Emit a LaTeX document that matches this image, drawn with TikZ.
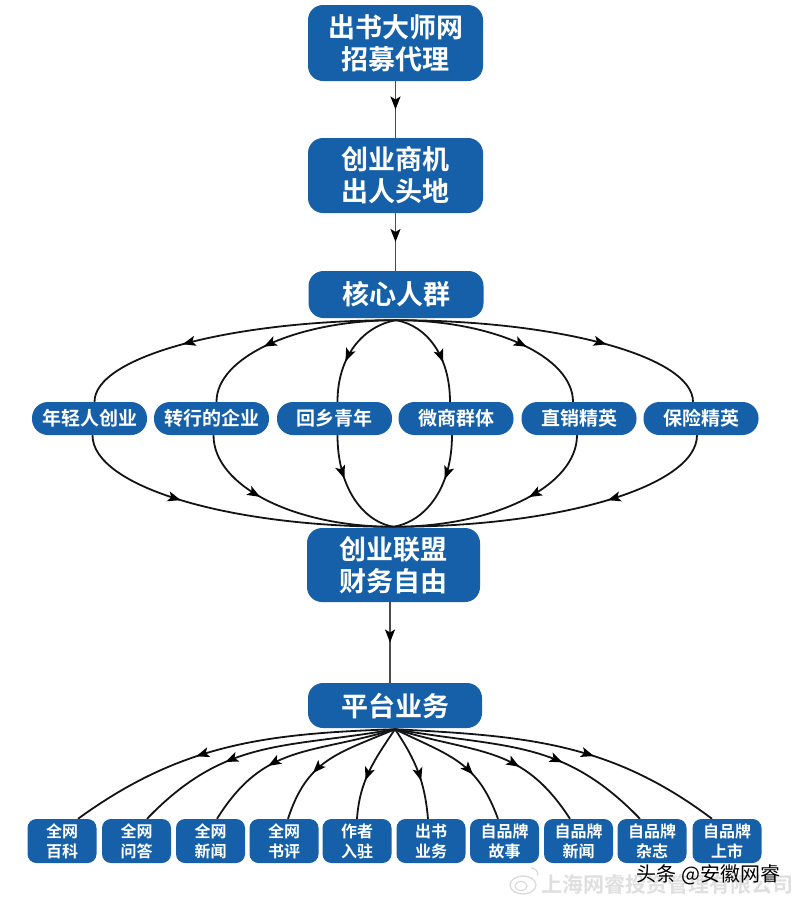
\documentclass[tikz,border=0pt]{standalone}
\usepackage{fontspec}
\newfontfamily\cjk{Noto Sans CJK SC}[BoldFont={Noto Sans CJK SC Bold}]
\usetikzlibrary{arrows.meta,decorations.markings}
\definecolor{boxblue}{RGB}{21,96,168}
\pgfdeclarelayer{bg}
\pgfsetlayers{bg,main}
\begin{document}
\begin{tikzpicture}[x=1pt,y=1pt,
  bigbox/.style={fill=boxblue, rounded corners=15pt, minimum width=175pt, text=white,
    font=\cjk\bfseries\fontsize{27}{32}\selectfont, align=center, inner sep=0pt},
  pill/.style={fill=boxblue, rounded corners=16pt, minimum width=115pt, minimum height=33pt,
    text=white, font=\cjk\bfseries\fontsize{19}{20}\selectfont, inner sep=0pt},
  smallbox/.style={fill=boxblue, rounded corners=9pt, minimum width=69pt, minimum height=44pt,
    text=white, font=\cjk\bfseries\fontsize{16}{20}\selectfont, align=center, inner sep=0pt},
  midarrow/.style={postaction={decorate}, decoration={markings,
    mark=at position #1 with {\arrow[black]{Stealth[length=13pt,width=10pt,inset=3pt]}}}},
  conn/.style={line width=1.8pt, draw=black!92},
  vline/.style={line width=1.4pt, draw=black!70, midarrow=0.5},
]
\useasboundingbox (0,0) rectangle (800,-903);

% main column
\node[bigbox, minimum height=76pt] (n1) at (395.5,-43) {出书大师网\\招募代理};
\node[bigbox, minimum height=75pt] (n2) at (395.5,-175.5) {创业商机\\出人头地};
\node[bigbox, minimum height=47pt] (n3) at (396,-294.5) {核心人群};
\node[bigbox, minimum height=74pt, minimum width=173pt] (n4) at (393.5,-565) {创业联盟\\财务自由};
\node[bigbox, minimum height=45pt, minimum width=174pt] (n5) at (395,-705.5) {平台业务};

% middle row
\node[pill] (m1) at (89.5,-418.5) {年轻人创业};
\node[pill] (m2) at (211.5,-418.5) {转行的企业};
\node[pill] (m3) at (334.5,-418.5) {回乡青年};
\node[pill] (m4) at (456,-418.5) {微商群体};
\node[pill] (m5) at (579,-418.5) {直销精英};
\node[pill] (m6) at (701,-418.5) {保险精英};

% bottom row
\node[smallbox] (b1) at (62,-841) {全网\\百科};
\node[smallbox] (b2) at (136.5,-841) {全网\\问答};
\node[smallbox] (b3) at (210.5,-841) {全网\\新闻};
\node[smallbox] (b4) at (284,-841) {全网\\书评};
\node[smallbox] (b5) at (357,-841) {作者\\入驻};
\node[smallbox] (b6) at (431,-841) {出书\\业务};
\node[smallbox] (b7) at (504.5,-841) {自品牌\\故事};
\node[smallbox] (b8) at (578.5,-841) {自品牌\\新闻};
\node[smallbox] (b9) at (652,-841) {自品牌\\杂志};
\node[smallbox] (b10) at (727,-841) {自品牌\\上市};

\begin{pgfonlayer}{bg}
\fill[white] (0,0) rectangle (800,-903);
% vertical connectors
\draw[vline] (n1.south) -- (n1.south |- n2.north);
\draw[vline] (n2.south) -- (n2.south |- n3.north);
\draw[vline] ([xshift=-3.5pt]n4.south) -- ([xshift=-3.5pt]n4.south |- n5.north);

% upper half of the ellipse fan
\coordinate (top) at ([yshift=-2pt]n3.south);
\draw[conn, midarrow=0.66] (top) to[out=180,in=90,out distance=166pt,in distance=45pt] ([xshift=5pt]m1.north);
\draw[conn, midarrow=0.64] (top) to[out=180,in=90,out distance=99pt,in distance=45pt] ([xshift=5pt]m2.north);
\draw[conn, midarrow=0.62] (top) to[out=190,in=90,out distance=34pt,in distance=45pt] ([xshift=3pt]m3.north);
\draw[conn, midarrow=0.62] (top) to[out=-10,in=90,out distance=32pt,in distance=45pt] ([xshift=-6pt]m4.north);
\draw[conn, midarrow=0.64] (top) to[out=0,in=90,out distance=98pt,in distance=45pt] ([xshift=-6pt]m5.north);
\draw[conn, midarrow=0.66] (top) to[out=0,in=90,out distance=164pt,in distance=45pt] ([xshift=-8pt]m6.north);

% lower half of the ellipse fan
\coordinate (bot) at ([yshift=1pt]n4.north);
\draw[conn, midarrow=0.35] ([xshift=3pt]m1.south) to[out=-90,in=180,out distance=51pt,in distance=166pt] (bot);
\draw[conn, midarrow=0.37] ([xshift=2pt]m2.south) to[out=-90,in=180,out distance=51pt,in distance=99pt] (bot);
\draw[conn, midarrow=0.38] ([xshift=3pt]m3.south) to[out=-90,in=170,out distance=51pt,in distance=32pt] (bot);
\draw[conn, midarrow=0.38] ([xshift=-4pt]m4.south) to[out=-90,in=10,out distance=51pt,in distance=34pt] (bot);
\draw[conn, midarrow=0.37] ([xshift=-2pt]m5.south) to[out=-90,in=0,out distance=51pt,in distance=101pt] (bot);
\draw[conn, midarrow=0.35] ([xshift=-4pt]m6.south) to[out=-90,in=0,out distance=51pt,in distance=167pt] (bot);

% bottom fan
\coordinate (fan) at ([yshift=-1pt]n5.south);
\draw[conn, midarrow=0.6] (fan) to[out=182,in=36] ([xshift=16pt]b1.north);
\draw[conn, midarrow=0.64] (fan) to[out=190,in=46,looseness=1.1] ([xshift=10.5pt]b2.north);
\draw[conn, midarrow=0.64] (fan) to[out=197,in=58,looseness=1.15] ([xshift=6.5pt]b3.north);
\draw[conn, midarrow=0.64] (fan) to[out=203,in=72,looseness=1.15] ([xshift=4pt]b4.north);
\draw[conn, midarrow=0.6] (fan) to[out=236,in=86] (b5.north);
\draw[conn, midarrow=0.6] (fan) to[out=-56,in=95] ([xshift=-3pt]b6.north);
\draw[conn, midarrow=0.64] (fan) to[out=-26,in=110,looseness=1.15] ([xshift=-6.5pt]b7.north);
\draw[conn, midarrow=0.64] (fan) to[out=-17,in=123,looseness=1.15] ([xshift=-8.5pt]b8.north);
\draw[conn, midarrow=0.64] (fan) to[out=-10,in=134,looseness=1.1] ([xshift=-12pt]b9.north);
\draw[conn, midarrow=0.6] (fan) to[out=-3,in=143] ([xshift=-15pt]b10.north);
\end{pgfonlayer}

% watermark
\draw[gray!30, line width=1.3pt] (523,-885) ellipse (13pt and 9pt);
\draw[gray!30, line width=1.1pt] (521,-886) ellipse (6pt and 4.5pt);
\draw[gray!30, line width=1.2pt] (531,-868) arc (90:0:7pt);
\node[text=gray!25, font=\cjk\bfseries\fontsize{21}{21}\selectfont, inner sep=0pt] (wm1) at (667.5,-884) {上海网睿投资管理有限公司};
\node[text=black, font=\cjk\fontsize{20}{20}\selectfont, inner sep=1pt] (wm2) at (708.5,-875) {头条 @安徽网睿};
\end{tikzpicture}
\end{document}
